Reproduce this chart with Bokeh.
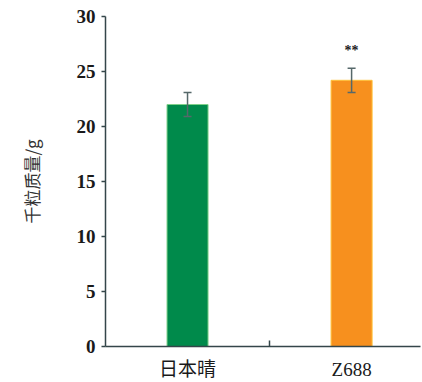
from bokeh.plotting import figure
from bokeh.models import FixedTicker, Range1d, ColumnDataSource, Whisker, TeeHead
from bokeh.core.properties import value
from bokeh.embed import file_html
from bokeh.resources import INLINE

# Thousand-grain weight of two rice lines
categories = ["日本晴", "Z688"]
weights = [22.0, 24.2]
errors = [1.1, 1.1]
marks = ["", "**"]
bar_colors = ["#008a4b", "#f7901e"]
bar_edges = ["#7fd08a", "#ffc23a"]
y_ticks = [0, 5, 10, 15, 20, 25, 30]

xs = [i + 0.5 for i in range(len(categories))]
src = ColumnDataSource(dict(
    x=xs, top=weights, color=bar_colors, edge=bar_edges,
    upper=[w + e for w, e in zip(weights, errors)],
    lower=[w - e for w, e in zip(weights, errors)],
    mark=marks,
))

axis_color = "#34464a"
err_color = "#56686a"

p = figure(width=422, height=382, output_backend="svg", toolbar_location=None,
           x_range=Range1d(0, 1.92), y_range=Range1d(0, 30),
           min_border_left=105, min_border_right=2, min_border_top=16,
           min_border_bottom=34)
p.outline_line_color = None
p.xgrid.grid_line_color = None
p.ygrid.grid_line_color = None

p.vbar(x="x", top="top", width=0.25, source=src, fill_color="color",
       line_color="edge", line_width=1)

whisk = Whisker(base="x", upper="upper", lower="lower", source=src,
                line_color=err_color, line_width=1.5, level="overlay",
                upper_head=TeeHead(size=8, line_color=err_color, line_width=1.5),
                lower_head=TeeHead(size=8, line_color=err_color, line_width=1.5))
p.add_layout(whisk)

p.text(x="x", y="upper", text="mark", source=src, text_align="center",
       text_baseline="bottom", y_offset=-10, text_font_size="14px",
       text_font_style="bold", text_color="#1a1a1a",
       text_font=value("Liberation Serif"))

# x axis: category labels, one small inward tick between the groups
xa = p.xaxis[0]
xa.ticker = FixedTicker(ticks=xs, minor_ticks=[1.0])
xa.major_label_overrides = {x: c for x, c in zip(xs, categories)}
xa.major_tick_in = 0
xa.major_tick_out = 0
xa.minor_tick_in = 6
xa.minor_tick_out = 0
xa.minor_tick_line_color = axis_color
xa.minor_tick_line_width = 1.5
xa.axis_line_color = axis_color
xa.axis_line_width = 1.5
xa.major_label_standoff = 12
xa.major_label_text_font = "Liberation Serif, Noto Sans CJK SC"
xa.major_label_text_font_size = "19px"
xa.major_label_text_color = "#1a1a1a"

ya = p.yaxis[0]
ya.ticker = FixedTicker(ticks=y_ticks)
ya.major_tick_in = 0
ya.major_tick_out = 4
ya.minor_tick_line_color = None
ya.major_tick_line_color = axis_color
ya.major_tick_line_width = 1.5
ya.axis_line_color = axis_color
ya.axis_line_width = 1.5
ya.major_label_standoff = 6
ya.major_label_text_font = "Liberation Serif"
ya.major_label_text_font_style = "bold"
ya.major_label_text_font_size = "19px"
ya.major_label_text_color = "#1a1a1a"
ya.axis_label = "千粒质量/g"
ya.axis_label_text_font = "Noto Sans CJK SC"
ya.axis_label_text_font_style = "normal"
ya.axis_label_text_font_size = "17px"
ya.axis_label_text_color = "#333333"
ya.axis_label_standoff = 30

open("out.html", "w").write(file_html(p, INLINE))
